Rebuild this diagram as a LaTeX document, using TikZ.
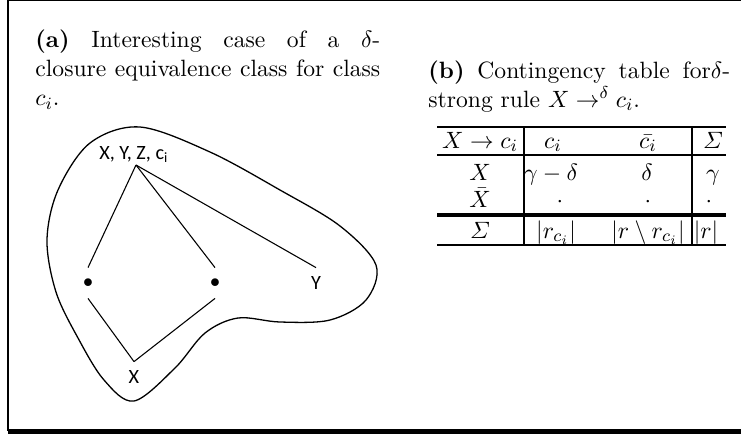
\documentclass[tikz,border=0pt]{standalone}
\usepackage{amsmath,amssymb}
\usepackage{fontspec}
\newfontfamily\figfont{Carlito}
\usetikzlibrary{positioning}

\begin{document}
\begin{tikzpicture}[x=0.464pt,y=-0.464pt,
      capt/.style={anchor=north west,inner sep=0pt,text width=160pt,align=justify,
        font=\fontsize{10.95}{13.6}\selectfont},
      lbl/.style={font=\figfont\fontsize{9.4}{11}\selectfont,inner sep=1pt},
      vtx/.style={lbl,inner sep=0pt,minimum height=13.9pt},
      edge/.style={line width=0.5pt},
      blob/.style={line width=0.6pt},
      cell/.style={anchor=base,inner sep=0pt,font=\fontsize{10.95}{13.6}\selectfont},
      rule/.style={line width=1.2pt}]
    \useasboundingbox (0,0) rectangle (741,434);
    % frame
    \draw[line width=0.5pt] (8,0.6) -- (741,0.6);
    \draw[line width=0.8pt] (8,0) -- (8,431);
    \fill (8,429) rectangle (741,434);
    % captions
    \node[capt] (capa) at (35,29) {\textbf{(a)} Interesting case of a $\delta$-\linebreak
      closure equivalence class for class $c_i$.};
    \node[capt,text width=140pt] (capb) at (428,60) {\textbf{(b)} Contingency table for$\delta$-\linebreak
      strong rule $X \rightarrow^{\delta} c_i$.};
    % lattice
    \coordinate (apex) at (136,165);
    \node[lbl,above=0pt of apex,xshift=-1pt] (top) {X, Y, Z, c\textsubscript{i}};
    \node[vtx] (d1) at (88,283) {$\bullet$};
    \node[vtx] (d2) at (215,283) {$\bullet$};
    \node[vtx] (y) at (316,283) {Y};
    \node[vtx] (x) at (134,377) {X};
    \foreach \n in {d1,d2,y} {
      \draw[edge] (apex) -- (\n.north);
    }
    \foreach \n in {d1,d2} {
      \draw[edge] (\n.south) -- (x.north);
    }
    \draw[blob] plot[smooth cycle,tension=0.55] coordinates {
      (140,127) (210,152) (280,190) (340,226) (376,265) (366,300)
      (330,320) (280,322) (238,318) (205,333) (175,368) (134,401)
      (104,380) (78,338) (56,292) (47,240) (58,190) (90,143)};
    % contingency table
    \foreach \n/\x/\y/\t in {
        h1/480/148/{$X \rightarrow c_i$}, h2/553/148/{$c_i$},
        h3/648/148/{$\bar{c_i}$}, h4/713/148/{$\varSigma$},
        r1/480/180/{$X$}, r2/551/180/{$\gamma-\delta$},
        r3/647/180/{$\delta$}, r4/713/180/{$\gamma$},
        s1/480/207/{$\bar{X}$}, s2/560/207/{$\cdot$},
        s3/648/207/{$\cdot$}, s4/709/207/{$\cdot$},
        t1/480/238/{$\varSigma$}, t2/556/238/{$|r_{c_i}|$},
        t3/648/238/{$|r \setminus r_{c_i}|$}, t4/706/238/{$|r|$}} {
      \node[cell] (\n) at (\x,\y) {\t};
    }
    \foreach \y in {127,155,245} {
      \draw[rule] (437,\y) -- (726,\y);
    }
    \draw[rule,line width=1.6pt] (437,215) -- (726,215);
    \foreach \x in {524,692} {
      \draw[line width=0.9pt] (\x,127) -- (\x,245);
    }
\end{tikzpicture}
\end{document}
